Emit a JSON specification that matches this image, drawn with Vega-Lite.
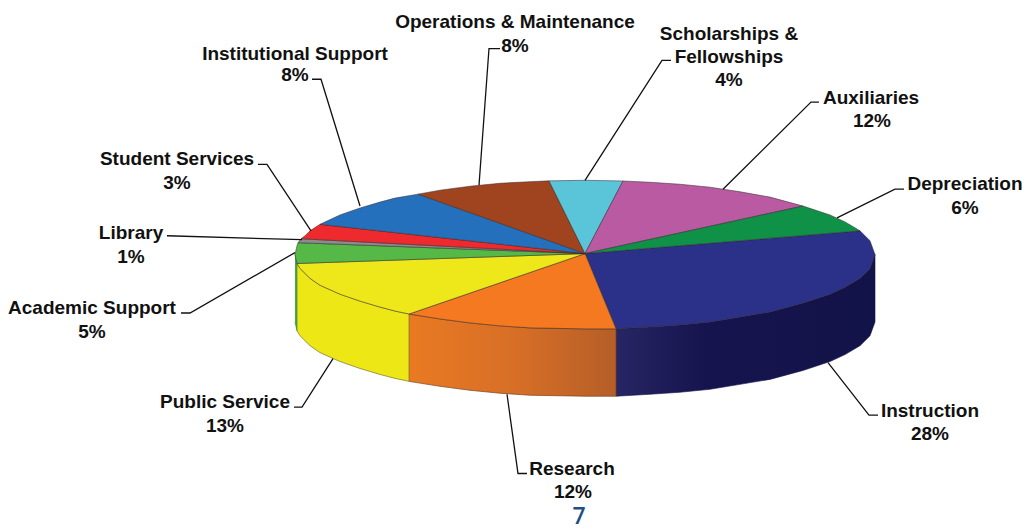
{"$schema":"https://vega.github.io/schema/vega-lite/v6.json","width":1026,"height":529,"autosize":{"type":"fit","contains":"padding"},"padding":0,"background":"white","config":{"view":{"stroke":null}},
"encoding":{"x":{"field":"x","type":"quantitative","scale":{"domain":[0,1026]},"axis":null},"y":{"field":"y","type":"quantitative","scale":{"domain":[529,0]},"axis":null}},
"datasets":{
"sideInstruction":[{"order":1,"x":616,"y":332},{"order":2,"x":650,"y":330},{"order":3,"x":680,"y":328},{"order":4,"x":710,"y":325},{"order":5,"x":740,"y":320},{"order":6,"x":770,"y":315},{"order":7,"x":803,"y":306},{"order":8,"x":830,"y":297},{"order":9,"x":845,"y":290},{"order":10,"x":860,"y":281},{"order":11,"x":870,"y":271},{"order":12,"x":875,"y":257},{"order":13,"x":875,"y":325},{"order":14,"x":870,"y":339},{"order":15,"x":860,"y":349},{"order":16,"x":845,"y":358},{"order":17,"x":830,"y":365},{"order":18,"x":803,"y":374},{"order":19,"x":770,"y":383},{"order":20,"x":740,"y":388},{"order":21,"x":710,"y":393},{"order":22,"x":680,"y":396},{"order":23,"x":650,"y":398},{"order":24,"x":616,"y":400}],
"sideResearch":[{"order":1,"x":409,"y":317},{"order":2,"x":440,"y":322},{"order":3,"x":470,"y":326},{"order":4,"x":500,"y":329},{"order":5,"x":530,"y":331},{"order":6,"x":585,"y":332},{"order":7,"x":616,"y":332},{"order":8,"x":616,"y":400},{"order":9,"x":585,"y":400},{"order":10,"x":530,"y":399},{"order":11,"x":500,"y":397},{"order":12,"x":470,"y":394},{"order":13,"x":440,"y":390},{"order":14,"x":409,"y":385}],
"sidePublic":[{"order":1,"x":297,"y":266},{"order":2,"x":300,"y":271},{"order":3,"x":310,"y":281},{"order":4,"x":320,"y":288},{"order":5,"x":340,"y":297},{"order":6,"x":360,"y":304},{"order":7,"x":380,"y":310},{"order":8,"x":395,"y":314},{"order":9,"x":409,"y":317},{"order":10,"x":409,"y":385},{"order":11,"x":395,"y":382},{"order":12,"x":380,"y":378},{"order":13,"x":360,"y":372},{"order":14,"x":340,"y":365},{"order":15,"x":320,"y":356},{"order":16,"x":310,"y":349},{"order":17,"x":300,"y":339},{"order":18,"x":297,"y":334}],
"sideAcademic":[{"order":1,"x":295,"y":257},{"order":2,"x":297,"y":266},{"order":3,"x":297,"y":334},{"order":4,"x":295,"y":325}],
"tops":[
{"slice":"Instruction","share":28,"order":1,"x":585,"y":256},{"slice":"Instruction","share":28,"order":2,"x":860,"y":233},{"slice":"Instruction","share":28,"order":3,"x":870,"y":243},{"slice":"Instruction","share":28,"order":4,"x":875,"y":257},{"slice":"Instruction","share":28,"order":5,"x":870,"y":271},{"slice":"Instruction","share":28,"order":6,"x":860,"y":281},{"slice":"Instruction","share":28,"order":7,"x":845,"y":290},{"slice":"Instruction","share":28,"order":8,"x":830,"y":297},{"slice":"Instruction","share":28,"order":9,"x":803,"y":306},{"slice":"Instruction","share":28,"order":10,"x":770,"y":315},{"slice":"Instruction","share":28,"order":11,"x":740,"y":320},{"slice":"Instruction","share":28,"order":12,"x":710,"y":325},{"slice":"Instruction","share":28,"order":13,"x":680,"y":328},{"slice":"Instruction","share":28,"order":14,"x":650,"y":330},{"slice":"Instruction","share":28,"order":15,"x":616,"y":332},{"slice":"Instruction","share":28,"order":16,"x":585,"y":256},
{"slice":"Research","share":12,"order":1,"x":585,"y":256},{"slice":"Research","share":12,"order":2,"x":616,"y":332},{"slice":"Research","share":12,"order":3,"x":585,"y":332},{"slice":"Research","share":12,"order":4,"x":530,"y":331},{"slice":"Research","share":12,"order":5,"x":500,"y":329},{"slice":"Research","share":12,"order":6,"x":470,"y":326},{"slice":"Research","share":12,"order":7,"x":440,"y":322},{"slice":"Research","share":12,"order":8,"x":409,"y":317},{"slice":"Research","share":12,"order":9,"x":585,"y":256},
{"slice":"Public Service","share":13,"order":1,"x":585,"y":256},{"slice":"Public Service","share":13,"order":2,"x":409,"y":317},{"slice":"Public Service","share":13,"order":3,"x":395,"y":314},{"slice":"Public Service","share":13,"order":4,"x":380,"y":310},{"slice":"Public Service","share":13,"order":5,"x":360,"y":304},{"slice":"Public Service","share":13,"order":6,"x":340,"y":297},{"slice":"Public Service","share":13,"order":7,"x":320,"y":288},{"slice":"Public Service","share":13,"order":8,"x":310,"y":281},{"slice":"Public Service","share":13,"order":9,"x":300,"y":271},{"slice":"Public Service","share":13,"order":10,"x":297,"y":266},{"slice":"Public Service","share":13,"order":11,"x":585,"y":256},
{"slice":"Academic Support","share":5,"order":1,"x":585,"y":256},{"slice":"Academic Support","share":5,"order":2,"x":297,"y":266},{"slice":"Academic Support","share":5,"order":3,"x":295,"y":257},{"slice":"Academic Support","share":5,"order":4,"x":297,"y":248},{"slice":"Academic Support","share":5,"order":5,"x":298,"y":245},{"slice":"Academic Support","share":5,"order":6,"x":585,"y":256},
{"slice":"Library","share":1,"order":1,"x":585,"y":256},{"slice":"Library","share":1,"order":2,"x":298,"y":245},{"slice":"Library","share":1,"order":3,"x":301,"y":241},{"slice":"Library","share":1,"order":4,"x":585,"y":256},
{"slice":"Student Services","share":3,"order":1,"x":585,"y":256},{"slice":"Student Services","share":3,"order":2,"x":301,"y":241},{"slice":"Student Services","share":3,"order":3,"x":305,"y":238},{"slice":"Student Services","share":3,"order":4,"x":310,"y":233},{"slice":"Student Services","share":3,"order":5,"x":320,"y":226.5},{"slice":"Student Services","share":3,"order":6,"x":585,"y":256},
{"slice":"Institutional Support","share":8,"order":1,"x":585,"y":256},{"slice":"Institutional Support","share":8,"order":2,"x":320,"y":226.5},{"slice":"Institutional Support","share":8,"order":3,"x":340,"y":217},{"slice":"Institutional Support","share":8,"order":4,"x":360,"y":210},{"slice":"Institutional Support","share":8,"order":5,"x":380,"y":204},{"slice":"Institutional Support","share":8,"order":6,"x":395,"y":200},{"slice":"Institutional Support","share":8,"order":7,"x":418,"y":196},{"slice":"Institutional Support","share":8,"order":8,"x":585,"y":256},
{"slice":"Operations & Maintenance","share":8,"order":1,"x":585,"y":256},{"slice":"Operations & Maintenance","share":8,"order":2,"x":418,"y":196},{"slice":"Operations & Maintenance","share":8,"order":3,"x":440,"y":192},{"slice":"Operations & Maintenance","share":8,"order":4,"x":470,"y":188},{"slice":"Operations & Maintenance","share":8,"order":5,"x":500,"y":185},{"slice":"Operations & Maintenance","share":8,"order":6,"x":530,"y":183.4},{"slice":"Operations & Maintenance","share":8,"order":7,"x":549,"y":182.6},{"slice":"Operations & Maintenance","share":8,"order":8,"x":585,"y":256},
{"slice":"Scholarships & Fellowships","share":4,"order":1,"x":585,"y":256},{"slice":"Scholarships & Fellowships","share":4,"order":2,"x":549,"y":182.6},{"slice":"Scholarships & Fellowships","share":4,"order":3,"x":585,"y":182},{"slice":"Scholarships & Fellowships","share":4,"order":4,"x":623,"y":182.7},{"slice":"Scholarships & Fellowships","share":4,"order":5,"x":585,"y":256},
{"slice":"Auxiliaries","share":12,"order":1,"x":585,"y":256},{"slice":"Auxiliaries","share":12,"order":2,"x":623,"y":182.7},{"slice":"Auxiliaries","share":12,"order":3,"x":650,"y":184},{"slice":"Auxiliaries","share":12,"order":4,"x":680,"y":186},{"slice":"Auxiliaries","share":12,"order":5,"x":710,"y":189},{"slice":"Auxiliaries","share":12,"order":6,"x":740,"y":193.6},{"slice":"Auxiliaries","share":12,"order":7,"x":770,"y":199},{"slice":"Auxiliaries","share":12,"order":8,"x":803,"y":208},{"slice":"Auxiliaries","share":12,"order":9,"x":585,"y":256},
{"slice":"Depreciation","share":6,"order":1,"x":585,"y":256},{"slice":"Depreciation","share":6,"order":2,"x":803,"y":208},{"slice":"Depreciation","share":6,"order":3,"x":830,"y":217},{"slice":"Depreciation","share":6,"order":4,"x":845,"y":224},{"slice":"Depreciation","share":6,"order":5,"x":860,"y":233},{"slice":"Depreciation","share":6,"order":6,"x":585,"y":256}],
"leaders":[
{"slice":"Operations & Maintenance","order":1,"x":500,"y":49},{"slice":"Operations & Maintenance","order":2,"x":489,"y":49},{"slice":"Operations & Maintenance","order":3,"x":479,"y":187},
{"slice":"Institutional Support","order":1,"x":312,"y":80},{"slice":"Institutional Support","order":2,"x":321,"y":80},{"slice":"Institutional Support","order":3,"x":360,"y":208},
{"slice":"Student Services","order":1,"x":258,"y":166},{"slice":"Student Services","order":2,"x":267,"y":166},{"slice":"Student Services","order":3,"x":311,"y":233},
{"slice":"Library","order":1,"x":167,"y":238},{"slice":"Library","order":2,"x":302,"y":242},
{"slice":"Academic Support","order":1,"x":181,"y":316},{"slice":"Academic Support","order":2,"x":190,"y":316},{"slice":"Academic Support","order":3,"x":295,"y":255},
{"slice":"Public Service","order":1,"x":294,"y":411},{"slice":"Public Service","order":2,"x":302,"y":411},{"slice":"Public Service","order":3,"x":333,"y":362},
{"slice":"Research","order":1,"x":527,"y":478},{"slice":"Research","order":2,"x":518,"y":478},{"slice":"Research","order":3,"x":507,"y":398},
{"slice":"Instruction","order":1,"x":878,"y":419},{"slice":"Instruction","order":2,"x":869,"y":419},{"slice":"Instruction","order":3,"x":828,"y":366},
{"slice":"Depreciation","order":1,"x":904,"y":191},{"slice":"Depreciation","order":2,"x":895,"y":191},{"slice":"Depreciation","order":3,"x":837,"y":220},
{"slice":"Auxiliaries","order":1,"x":819,"y":103},{"slice":"Auxiliaries","order":2,"x":811,"y":103},{"slice":"Auxiliaries","order":3,"x":723,"y":191},
{"slice":"Scholarships & Fellowships","order":1,"x":671,"y":61},{"slice":"Scholarships & Fellowships","order":2,"x":662,"y":61},{"slice":"Scholarships & Fellowships","order":3,"x":585,"y":182}],
"labels":[
{"text":"Operations & Maintenance","x":515,"y":20},{"text":"8%","x":515,"y":44},
{"text":"Institutional Support","x":295,"y":52},{"text":"8%","x":295,"y":74},
{"text":"Student Services","x":177,"y":159},{"text":"3%","x":177,"y":183},
{"text":"Library","x":131,"y":233},{"text":"1%","x":131,"y":257},
{"text":"Academic Support","x":92,"y":309},{"text":"5%","x":92,"y":333},
{"text":"Public Service","x":225,"y":404},{"text":"13%","x":225,"y":428},
{"text":"Research","x":572,"y":471},{"text":"12%","x":573,"y":495},
{"text":"Instruction","x":930,"y":413},{"text":"28%","x":930,"y":436},
{"text":"Depreciation","x":965,"y":184},{"text":"6%","x":965,"y":208},
{"text":"Auxiliaries","x":871,"y":97},{"text":"12%","x":872,"y":120},
{"text":"Scholarships &","x":729,"y":32},{"text":"Fellowships","x":729,"y":56},{"text":"4%","x":729,"y":79}],
"page":[{"text":"7","x":579,"y":529}]
},
"layer":[
{"data":{"name":"sideInstruction"},"mark":{"type":"line","stroke":"#14134a","strokeWidth":0.6,"fill":{"gradient":"linear","x1":0,"y1":0,"x2":1,"y2":0,"stops":[{"offset":0,"color":"#272563"},{"offset":0.35,"color":"#16144e"},{"offset":1,"color":"#121348"}]}},"encoding":{"order":{"field":"order"}}},
{"data":{"name":"sideResearch"},"mark":{"type":"line","stroke":"#7a4020","strokeWidth":0.7,"fill":{"gradient":"linear","x1":0,"y1":0,"x2":1,"y2":0,"stops":[{"offset":0,"color":"#e97a22"},{"offset":0.5,"color":"#d86f27"},{"offset":1,"color":"#b55e28"}]}},"encoding":{"order":{"field":"order"}}},
{"data":{"name":"sidePublic"},"mark":{"type":"line","stroke":"#77752a","strokeWidth":0.7,"fill":"#eee716"},"encoding":{"order":{"field":"order"}}},
{"data":{"name":"sideAcademic"},"mark":{"type":"line","stroke":"#3f8a38","strokeWidth":0.7,"fill":"#4da845"},"encoding":{"order":{"field":"order"}}},
{"data":{"name":"tops"},"mark":{"type":"line","stroke":"#33282a","strokeOpacity":0.65,"strokeWidth":0.8,"strokeJoin":"round"},
"encoding":{"order":{"field":"order"},"fill":{"field":"slice","type":"nominal","legend":null,"scale":{"domain":["Instruction","Research","Public Service","Academic Support","Library","Student Services","Institutional Support","Operations & Maintenance","Scholarships & Fellowships","Auxiliaries","Depreciation"],"range":["#2b3088","#f47920","#eee81b","#56b947","#8c8c8c","#ee2a2e","#2470bc","#a0431f","#5ac4d8","#b95aa3","#0f9148"]}}}},
{"data":{"name":"leaders"},"mark":{"type":"line","stroke":"#111111","strokeWidth":1.3},"encoding":{"order":{"field":"order"},"detail":{"field":"slice"}}},
{"data":{"name":"labels"},"mark":{"type":"text","font":"Liberation Sans","fontWeight":"bold","fontSize":19,"color":"#111111","align":"center","baseline":"middle","dy":2},"encoding":{"text":{"field":"text"}}},
{"data":{"name":"page"},"mark":{"type":"text","font":"Open Sans","fontWeight":600,"fontSize":23,"color":"#1c4f86","align":"center","baseline":"alphabetic"},"encoding":{"text":{"field":"text"}}}
]}
